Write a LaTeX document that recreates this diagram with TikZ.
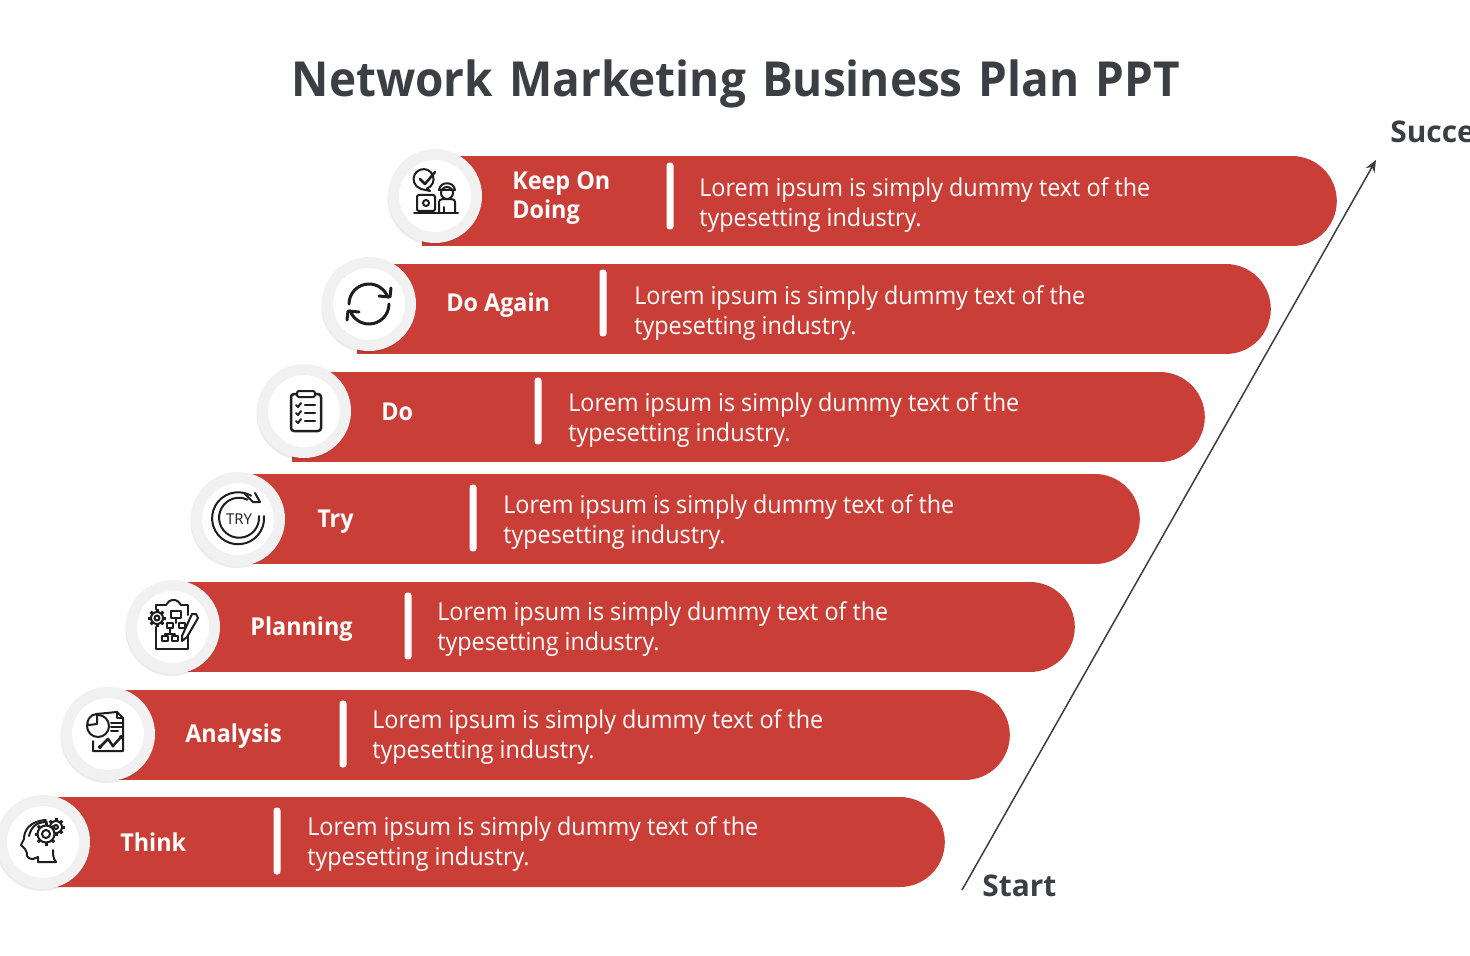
\documentclass[tikz,border=0pt]{standalone}
\usepackage{fontspec}
\usetikzlibrary{shapes.misc,shadows,arrows.meta}
\setmainfont{Open Sans}
\newfontfamily\narrowfont[FakeStretch=.95]{Open Sans}

\definecolor{barred}{HTML}{C93F38}
\definecolor{ringgray}{HTML}{F1F1F2}
\definecolor{darktext}{HTML}{3B3E42}
\definecolor{icondark}{HTML}{1E1E1E}

\tikzset{
    barbox/.style={rounded rectangle, rounded rectangle west arc=none, fill=barred,
        minimum height=1.8cm, inner sep=0pt, outer sep=0pt},
    badge/.style={circle, fill=white, draw=ringgray, line width=.22cm, minimum size=1.66cm, inner sep=0pt,
        general shadow={shadow xshift=-.01cm, shadow yshift=-.04cm, shadow scale=1.13, opacity=.04, fill=black},
        general shadow={shadow xshift=-.03cm, shadow yshift=-.05cm, shadow scale=1.11, opacity=.04, fill=black}},
    divider/.style={rectangle, rounded corners=.06cm, fill=white, minimum width=.14cm, minimum height=1.34cm, inner sep=0pt},
    steplabel/.style={anchor=west, inner sep=0pt, align=left, text=white,
        font=\narrowfont\fontsize{14}{17}\selectfont\bfseries},
    stepdesc/.style={anchor=west, inner sep=0pt, align=left, text=white,
        font=\narrowfont\fontsize{14}{17}\selectfont},
    endlabel/.style={anchor=west, inner sep=0pt, text=darktext,
        font=\fontsize{17}{20}\selectfont\bfseries},
    iconline/.style={draw=icondark, line width=.04cm, line cap=round, line join=round},
}

% toothed wheel for the icons: centre, radius, hole radius
\newcommand{\cogwheel}[3]{
    \foreach \ang in {0,45,...,315}
        \draw[iconline, line width=.06cm, line cap=butt] ([shift={(\ang:#2)}]#1) -- ([shift={(\ang:#2+3)}]#1);
    \draw[iconline, fill=white] (#1) circle (#2);
    \draw[iconline] (#1) circle (#3);
}

\begin{document}
\begin{tikzpicture}[x=.02cm, y=.02cm]
    \useasboundingbox (0,-956) rectangle (1470,0);
    \fill[white] (0,-956) rectangle (1470,0);

    % title
    \node [inner sep=0pt, text=darktext, font=\narrowfont\fontsize{27.5}{32}\selectfont\bfseries] (title) at (736,-84)
        {Network\hspace{2.4pt} Marketing\hspace{2.4pt} Business\hspace{2.4pt} Plan\hspace{2.4pt} PPT};

    % bars, top to bottom
    \node [barbox, minimum width=18.3cm, anchor=west] (bar7) at (422,-201) {};
    \node [barbox, minimum width=18.28cm, anchor=west] (bar6) at (357,-309) {};
    \node [barbox, minimum width=18.26cm, anchor=west] (bar5) at (292,-417) {};
    \node [barbox, minimum width=18.04cm, anchor=west] (bar4) at (238,-519) {};
    \node [barbox, minimum width=18.04cm, anchor=west] (bar3) at (173,-627) {};
    \node [barbox, minimum width=18.04cm, anchor=west] (bar2) at (108,-735) {};
    \node [barbox, minimum width=18.04cm, anchor=west] (bar1) at (43,-842) {};

    % circles
    \node [badge] (ring7) at (435,-196) {};
    \node [badge] (ring6) at (369,-304) {};
    \node [badge] (ring5) at (304,-411) {};
    \node [badge] (ring4) at (238,-519) {};
    \node [badge] (ring3) at (173,-627) {};
    \node [badge] (ring2) at (108,-734) {};
    \node [badge] (ring1) at (43,-842) {};

    % dividers
    \node [divider] (div7) at (670,-196) {};
    \node [divider] (div6) at (603,-303) {};
    \node [divider] (div5) at (538,-411) {};
    \node [divider] (div4) at (473,-518) {};
    \node [divider] (div3) at (408,-626) {};
    \node [divider] (div2) at (343,-734) {};
    \node [divider] (div1) at (277,-841) {};

    % step names
    \node [steplabel] (name7) at (512,-198) {Keep On\\Doing};
    \node [steplabel] (name6) at (446,-305) {Do Again};
    \node [steplabel] (name5) at (381,-412) {Do};
    \node [steplabel] (name4) at (317,-522) {Try};
    \node [steplabel] (name3) at (250,-629) {Planning};
    \node [steplabel] (name2) at (185,-736) {Analysis};
    \node [steplabel] (name1) at (120,-842) {Think};

    % descriptions
    \node [stepdesc] (text7) at (699,-205) {Lorem ipsum is simply dummy text of the\\typesetting industry.};
    \node [stepdesc] (text6) at (634,-313) {Lorem ipsum is simply dummy text of the\\typesetting industry.};
    \node [stepdesc] (text5) at (568,-420) {Lorem ipsum is simply dummy text of the\\typesetting industry.};
    \node [stepdesc] (text4) at (503,-522) {Lorem ipsum is simply dummy text of the\\typesetting industry.};
    \node [stepdesc] (text3) at (437,-629) {Lorem ipsum is simply dummy text of the\\typesetting industry.};
    \node [stepdesc] (text2) at (372,-737) {Lorem ipsum is simply dummy text of the\\typesetting industry.};
    \node [stepdesc] (text1) at (307,-844) {Lorem ipsum is simply dummy text of the\\typesetting industry.};

    % start to success
    \node [endlabel] (start) at (982,-886) {Start};
    \node [endlabel] (success) at (1390,-132) {Success};
    \coordinate (arrowfoot) at (962,-890);
    \coordinate (arrowtip) at (1376,-160);
    \draw[-{Stealth[length=.24cm, width=.2cm]}, draw=darktext, line width=.03cm] (arrowfoot) -- (arrowtip);

    % keep on doing icon
    \begin{scope}[shift={(ring7.center)}]
        \draw[iconline] (-5,5) -- (-8,7.5) arc (-70:250:10) -- (-14,7) -- cycle;
        \draw[iconline, line width=.05cm] (-15,17) -- (-10,12) -- (0,24);
        \draw[iconline, rounded corners=.03cm] (-18,-15) rectangle (0,1);
        \draw[iconline] (-9,-7) circle (3);
        \draw[iconline] (12,3) circle (6);
        \draw[iconline] (4,6) .. controls (5,15) and (19,15) .. (20,6) -- cycle;
        \draw[iconline] (4,-17) -- (4,-6) .. controls (4,-3) and (8,-3) .. (12,-3)
            .. controls (16,-3) and (20,-3) .. (20,-6) -- (20,-17);
        \draw[iconline] (9,-11) -- (9,-17);
        \draw[iconline] (-21,-17) -- (23,-17);
    \end{scope}

    % do again icon
    \begin{scope}[shift={(ring6.center)}]
        \draw[iconline, line width=.06cm] (-20,0) arc (180:20:20);
        \draw[iconline, line width=.06cm] (10,8) -- (21,7) -- (22,16);
        \draw[iconline, line width=.06cm] (20,0) arc (0:-160:20);
        \draw[iconline, line width=.06cm] (-10,-8) -- (-21,-7) -- (-22,-16);
    \end{scope}

    % do icon
    \begin{scope}[shift={(ring5.center)}]
        \draw[iconline, line width=.05cm, rounded corners=.06cm] (-13,-20) rectangle (17,17);
        \draw[iconline, fill=white, rounded corners=.04cm] (-7,14) rectangle (11,20);
        \foreach \yy in {6,-2,-10} {
            \draw[iconline] (-8,\yy) -- (-6,\yy-2) -- (-3,\yy+2);
            \draw[iconline, line width=.05cm] (1,\yy) -- (11,\yy);
        }
    \end{scope}

    % try icon
    \begin{scope}[shift={(ring4.center)}]
        \draw[iconline] (26,3) arc (5:-300:26);
        \draw[iconline] (21,3) arc (5:-295:20);
        \draw[iconline] (6,26) -- (15,17) -- (22,17) -- (17,26);
        \node [inner sep=0pt, text=icondark, font=\fontsize{8.5}{9}\selectfont] (trytext) at (1,0) {TRY};
    \end{scope}

    % planning icon
    \begin{scope}[shift={(ring3.center)}]
        \draw[iconline] (-17,0) -- (-17,-22) -- (15,-22) -- (15,-6);
        \draw[iconline] (15,12) -- (15,22) -- (8,22);
        \draw[iconline] (-17,18) -- (-17,22) -- (-7,22);
        \draw[iconline, rounded corners=.04cm] (-7,22) -- (-3,27) -- (4,27) -- (8,22);
        \cogwheel{-16,9}{6}{2.5}
        \draw[iconline] (-2,9) rectangle (8,16);
        \draw[iconline] (3,9) -- (3,4);
        \draw[iconline] (-6,-1) rectangle (0,4);
        \draw[iconline] (6,-1) rectangle (12,4);
        \draw[iconline] (-3,-1) -- (-3,-7) -- (-8,-7) -- (-8,-9);
        \draw[iconline] (-3,-7) -- (2,-7) -- (2,-9);
        \draw[iconline] (-11,-9) rectangle (-5,-14);
        \draw[iconline] (-1,-9) rectangle (5,-14);
        \draw[iconline, fill=white] (19,13) -- (9,-9) -- (9,-14) -- (14,-10) -- (25,9) -- (23,13) -- cycle;
    \end{scope}

    % analysis icon
    \begin{scope}[shift={(ring2.center)}]
        \draw[iconline] (-12,20) -- (9,22) -- (15,16) -- (15,-17) -- (-15,-17) -- (-15,-7);
        \draw[iconline] (9,22) -- (9,16) -- (15,16);
        \draw[iconline, fill=white] (-10,8) circle (11);
        \draw[iconline, fill=white] (-11,10) -- (-11,20) arc (90:190:9.5) -- cycle;
        \draw[iconline] (3,11) -- (14,11);
        \draw[iconline] (3,7) -- (14,7);
        \draw[iconline] (3,3) -- (10,3);
        \draw[iconline, line width=.05cm] (-8,-13) -- (0,-5) -- (5,-12) -- (13,-3);
        \fill[icondark] (-8,-13) circle (2) (0,-5) circle (1.5) (5,-12) circle (1.5) (13,-3) circle (2);
    \end{scope}

    % think icon
    \begin{scope}[shift={(ring1.center)}]
        \draw[iconline] (13,-20) -- (-5,-20) -- (-5,-15) -- (-10,-17) .. controls (-14,-17) and (-17,-15) .. (-16,-11)
            -- (-18,-7) -- (-22,-3) -- (-19,3) .. controls (-19,12) and (-13,21) .. (3,22);
        \draw[iconline] (-14,6) .. controls (-12,14) and (-8,20) .. (4,20);
        \draw[iconline] (13,-20) .. controls (10,-16) and (10,-13) .. (10,-8);
        \cogwheel{13,15}{6}{2}
        \cogwheel{3,8}{8.5}{4}
    \end{scope}
\end{tikzpicture}
\end{document}
